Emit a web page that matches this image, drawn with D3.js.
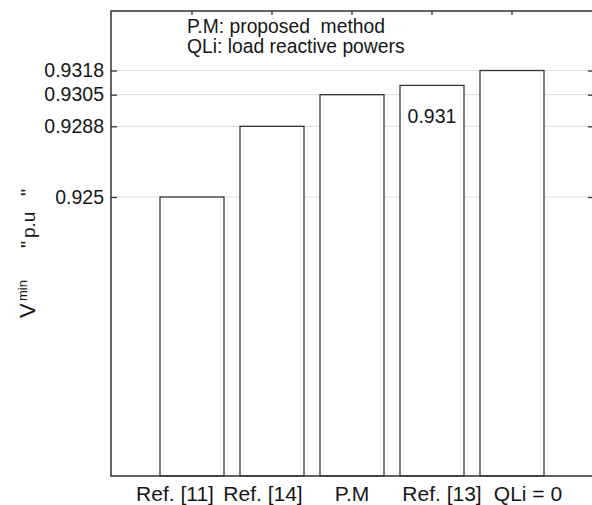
<!DOCTYPE html>
<html>
<head>
<meta charset="utf-8">
<script src="https://cdn.jsdelivr.net/npm/d3@7"></script>
<style>
  body { margin: 0; background: #fff; }
  text { font-family: "Liberation Sans", Arial, Helvetica, sans-serif; fill: #161616; }
</style>
</head>
<body>
<svg id="chart" width="592" height="505"></svg>
<script>
// Minimum bus voltage (p.u.) obtained by each approach
const categories = ["Ref. [11]", "Ref. [14]", "P.M", "Ref. [13]", "QLi = 0"];
const vmin = [0.925, 0.9288, 0.9305, 0.931, 0.9318];
const yTickValues = [0.925, 0.9288, 0.9305, 0.9318];
const yDomain = [0.91, 0.935];
const legendLines = ["P.M: proposed  method", "QLi: load reactive powers"];
const annotatedCategory = "Ref. [13]";

const svg = d3.select("#chart");
const margin = { left: 111, top: 11, right: -1, bottom: 29 };
const W = 592, H = 505;
const plotRight = W - margin.right;
const plotBottom = H - margin.bottom;

const x = d3.scaleBand()
  .domain(categories)
  .range([152, 552])
  .paddingInner(0.2)
  .paddingOuter(0.1);

const y = d3.scaleLinear().domain(yDomain).range([plotBottom, margin.top]);

const ink = "#333";

// horizontal grid at the labelled voltages
svg.append("g")
  .selectAll("line")
  .data(yTickValues)
  .join("line")
  .attr("x1", margin.left).attr("x2", plotRight)
  .attr("y1", d => y(d)).attr("y2", d => y(d))
  .attr("stroke", "#e2e2e2").attr("stroke-width", 1.2);

// bars
svg.append("g")
  .selectAll("rect")
  .data(categories.map((c, i) => ({ c, v: vmin[i] })))
  .join("rect")
  .attr("x", d => x(d.c))
  .attr("width", x.bandwidth())
  .attr("y", d => y(d.v))
  .attr("height", d => plotBottom - y(d.v))
  .attr("fill", "#fff")
  .attr("stroke", ink)
  .attr("stroke-width", 1.3);

// value written inside one bar
const ann = vmin[categories.indexOf(annotatedCategory)];
svg.append("text")
  .attr("x", x(annotatedCategory) + x.bandwidth() / 2)
  .attr("y", y(ann) + 38)
  .attr("text-anchor", "middle")
  .attr("font-size", 19.5)
  .text(d3.format(".3f")(ann));

// plot frame
svg.append("rect")
  .attr("x", margin.left).attr("y", margin.top)
  .attr("width", plotRight - margin.left)
  .attr("height", plotBottom - margin.top)
  .attr("fill", "none").attr("stroke", ink).attr("stroke-width", 1.5);

// left axis: inward ticks, labels outside
const yAxis = svg.append("g")
  .attr("transform", `translate(${margin.left},0)`)
  .call(d3.axisLeft(y).tickValues(yTickValues).tickFormat(d => String(d))
    .tickSizeInner(-6).tickSizeOuter(0).tickPadding(7));
yAxis.select(".domain").remove();
yAxis.selectAll(".tick line").attr("stroke", ink).attr("stroke-width", 1.3);
yAxis.selectAll(".tick text").attr("font-size", 19.5).attr("fill", "#161616")
  .attr("font-family", "Liberation Sans, Arial, sans-serif");

// right axis: inward ticks only
const yAxisR = svg.append("g")
  .attr("transform", `translate(${plotRight},0)`)
  .call(d3.axisRight(y).tickValues(yTickValues).tickFormat("")
    .tickSizeInner(-5).tickSizeOuter(0));
yAxisR.select(".domain").remove();
yAxisR.selectAll(".tick line").attr("stroke", ink).attr("stroke-width", 1.3);

// top axis: inward ticks at the bar centres
const xAxisT = svg.append("g")
  .attr("transform", `translate(0,${margin.top})`)
  .call(d3.axisTop(x).tickFormat("").tickSizeInner(-4).tickSizeOuter(0));
xAxisT.select(".domain").remove();
xAxisT.selectAll(".tick line").attr("stroke", ink).attr("stroke-width", 1.3);

// bottom category labels
const labelNudge = [-17, -9, 0, 10, 16];
svg.append("g")
  .selectAll("text")
  .data(categories)
  .join("text")
  .attr("x", (d, i) => x(d) + x.bandwidth() / 2 + labelNudge[i])
  .attr("y", 501)
  .attr("text-anchor", "middle")
  .attr("font-size", 21)
  .text(d => d);

// legend text
svg.append("g")
  .selectAll("text")
  .data(legendLines)
  .join("text")
  .attr("x", 187)
  .attr("y", (d, i) => 33 + i * 20)
  .attr("font-size", 19.3)
  .style("white-space", "pre")
  .text(d => d);

// vertical axis title: V^min  " p.u "
const yTitle = svg.append("text")
  .attr("transform", "translate(35,318) rotate(-90)")
  .attr("font-size", 20)
  .style("white-space", "pre");
yTitle.append("tspan").attr("x", 0).attr("font-size", 22).text("V");
yTitle.append("tspan").attr("x", 17).attr("dy", -8).attr("font-size", 13).text("min");
yTitle.append("tspan").attr("x", 70).attr("dy", 8).text("\"");
yTitle.append("tspan").attr("x", 80).attr("font-size", 19).text("p.u");
yTitle.append("tspan").attr("x", 122).text("\"");
</script>
</body>
</html>
